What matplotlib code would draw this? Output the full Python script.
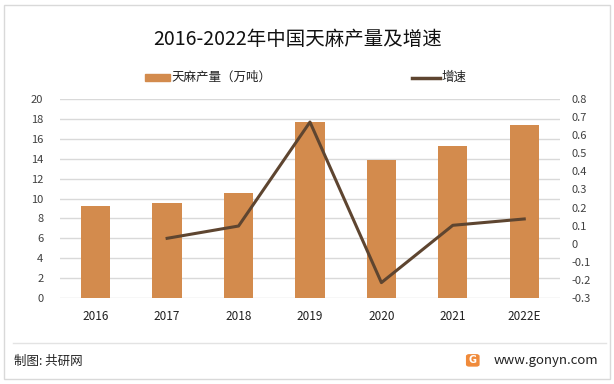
import matplotlib
matplotlib.use("Agg")
import matplotlib.pyplot as plt
from matplotlib.patches import Rectangle, FancyBboxPatch
from matplotlib.lines import Line2D

plt.rcParams['font.family'] = ['Noto Sans CJK SC', 'DejaVu Sans']

years = ["2016", "2017", "2018", "2019", "2020", "2021", "2022E"]
production = [9.25, 9.55, 10.55, 17.7, 13.87, 15.28, 17.39]
growth_years = ["2017", "2018", "2019", "2020", "2021", "2022E"]
growth = [0.030, 0.098, 0.673, -0.215, 0.102, 0.137]

left_ticks = list(range(0, 21, 2))
right_ticks = [-0.3, -0.2, -0.1, 0, 0.1, 0.2, 0.3, 0.4, 0.5, 0.6, 0.7, 0.8]

bar_color = "#D38B4D"
line_color = "#5E4530"
grid_color = "#D9D9D9"
text_color = "#404040"

fig = plt.figure(figsize=(6.14, 3.84), dpi=100)

# outer border
fig.patches.append(Rectangle((0.007, 0.013), 0.986, 0.974, transform=fig.transFigure,
                             fill=False, edgecolor="#D9D9D9", linewidth=1.0))
# footer separator
fig.add_artist(Line2D([0.021, 0.987], [0.107, 0.107], transform=fig.transFigure,
                      color="#E3E3E3", linewidth=1.0))

ax = fig.add_axes([0.0977, 0.224, 0.8143, 0.518])
x = list(range(len(years)))
ax.bar(x, production, width=0.41, color=bar_color, zorder=2)
ax.set_ylim(0, 20)
ax.set_yticks(left_ticks)
ax.set_xlim(-0.5, len(years) - 0.5)
ax.set_xticks(x)
ax.set_xticklabels(years)
ax.grid(axis="y", color=grid_color, linewidth=1.0, zorder=0)
ax.set_axisbelow(True)
for s in ax.spines.values():
    s.set_visible(False)
ax.tick_params(axis="both", length=0, labelsize=8, colors=text_color)
ax.tick_params(axis="x", pad=9, labelcolor="#202020", labelsize=8.5)
ax.tick_params(axis="y", pad=12)

ax2 = ax.twinx()
gx = [years.index(y) for y in growth_years]
ax2.plot(gx, growth, color=line_color, linewidth=2.2, zorder=3)
ax2.set_ylim(-0.3, 0.8)
ax2.set_yticks(right_ticks)
ax2.set_yticklabels([("%g" % t) for t in right_ticks])
for s in ax2.spines.values():
    s.set_visible(False)
ax2.tick_params(axis="y", length=0, labelsize=8, colors=text_color, pad=8)

fig.text(0.485, 0.897, "2016-2022年中国天麻产量及增速", ha="center", va="center",
         fontsize=14, color="#111111")

# legend
fig.patches.append(Rectangle((0.236, 0.790), 0.041, 0.016, transform=fig.transFigure,
                             color=bar_color))
fig.text(0.280, 0.800, "天麻产量（万吨）", ha="left", va="center", fontsize=9, color="#202020")
fig.add_artist(Line2D([0.671, 0.717], [0.798, 0.798], transform=fig.transFigure,
                      color=line_color, linewidth=2.5))
fig.text(0.719, 0.800, "增速", ha="left", va="center", fontsize=9, color="#202020")

# footer
fig.text(0.022, 0.06, "制图: 共研网", ha="left", va="center", fontsize=9, color="#222222")
fig.patches.append(FancyBboxPatch((0.760, 0.047), 0.020, 0.029, transform=fig.transFigure,
                                  boxstyle="round,pad=0.0,rounding_size=0.004",
                                  color="#F08A3A"))
fig.text(0.770, 0.0615, "G", ha="center", va="center", fontsize=7, color="white",
         fontweight="bold", family=["DejaVu Sans"])
fig.text(0.974, 0.06, "www.gonyn.com", ha="right", va="center", fontsize=9.5, color="#222222")

fig.savefig("out.png", dpi=100, facecolor="white")
